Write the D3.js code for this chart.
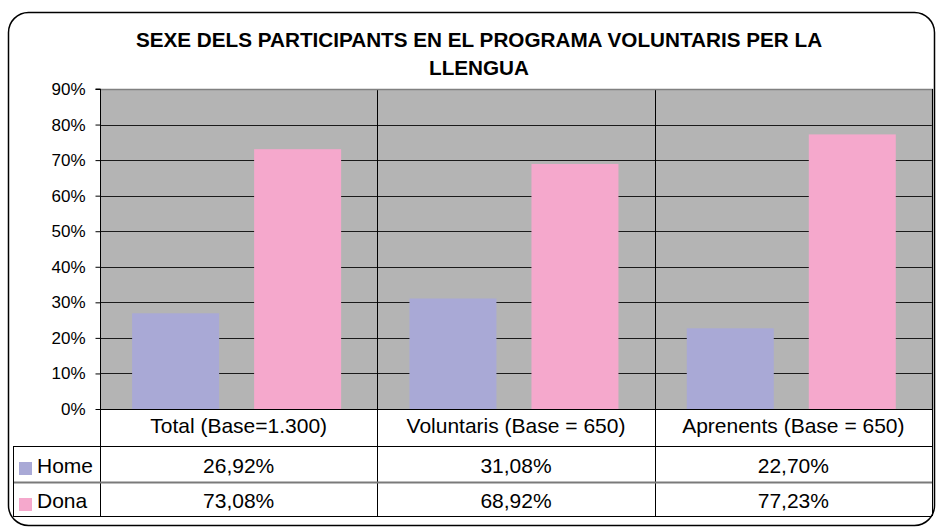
<!DOCTYPE html>
<html><head><meta charset="utf-8">
<script src="https://cdn.jsdelivr.net/npm/d3@7"></script>
<style>body{margin:0;background:#fff}svg{display:block}text{font-family:"Liberation Sans",Arial,sans-serif}</style>
</head><body>
<svg id="chart" width="937" height="528"></svg>
<script>
const titleLines = ["SEXE DELS PARTICIPANTS EN EL PROGRAMA VOLUNTARIS PER LA", "LLENGUA"];
const categories = ["Total (Base=1.300)", "Voluntaris (Base = 650)", "Aprenents (Base = 650)"];
const seriesNames = ["Home", "Dona"];
const homeValues = [26.92, 31.08, 22.70];
const donaValues = [73.08, 68.92, 77.23];
const seriesColors = ["#A9A9D6", "#F5A8CC"];
const yTicks = [0, 10, 20, 30, 40, 50, 60, 70, 80, 90];

const seriesValues = [homeValues, donaValues];
const fmtVal = v => v.toFixed(2).replace(".", ",") + "%";

const svg = d3.select("#chart");
const plot = {left: 100, right: 932, top: 89, bottom: 409};
const rowY = [409, 446, 482, 516];
const tableLeft = 13;

// outer border
svg.append("rect").attr("x", 8.5).attr("y", 12.5).attr("width", 926).attr("height", 513)
  .attr("rx", 20).attr("ry", 20).attr("fill", "#fff").attr("stroke", "#000").attr("stroke-width", 1.5);

// title
svg.selectAll("text.title").data(titleLines).join("text").attr("class", "title")
  .attr("x", 479).attr("y", (d, i) => 47 + i * 28).attr("text-anchor", "middle")
  .attr("font-size", 20.7).attr("font-weight", "bold").attr("fill", "#000").text(d => d);

const x0 = d3.scaleBand().domain(categories).range([plot.left, plot.right]).padding(0);
const x1 = d3.scaleBand().domain(seriesNames).range([0, x0.bandwidth()])
  .paddingInner(0.287).paddingOuter(0.28).align(0.47);
const y = d3.scaleLinear().domain([0, 90]).range([plot.bottom, plot.top]);

// plot background
svg.append("rect").attr("x", plot.left).attr("y", plot.top).attr("width", plot.right - plot.left)
  .attr("height", plot.bottom - plot.top).attr("fill", "#B4B4B4");

// gridlines
svg.append("g").selectAll("line").data(yTicks.filter(t => t > 0 && t < 90)).join("line")
  .attr("x1", plot.left).attr("x2", plot.right).attr("y1", d => Math.round(y(d)) + 0.5).attr("y2", d => Math.round(y(d)) + 0.5)
  .attr("stroke", "#1a1a1a").attr("stroke-width", 1);

// bars
const groups = svg.append("g").selectAll("g").data(categories).join("g")
  .attr("transform", d => `translate(${x0(d)},0)`);
groups.selectAll("rect").data((c, ci) => seriesNames.map((s, si) => ({s, v: seriesValues[si][ci], si})))
  .join("rect")
  .attr("x", d => x1(d.s)).attr("width", x1.bandwidth())
  .attr("y", d => y(d.v)).attr("height", d => y(0) - y(d.v))
  .attr("fill", d => seriesColors[d.si]);

// category dividers
svg.append("g").selectAll("line").data(categories.slice(1)).join("line")
  .attr("x1", d => Math.round(x0(d)) + 0.5).attr("x2", d => Math.round(x0(d)) + 0.5)
  .attr("y1", plot.top).attr("y2", rowY[3]).attr("stroke", "#000");

// plot border top/right
svg.append("path").attr("d", `M${plot.left},${plot.top + 0.5}H${plot.right + 0.5}V${plot.bottom}`)
  .attr("fill", "none").attr("stroke", "#808080").attr("stroke-width", 1.5);

// y axis
const yAxis = d3.axisLeft(y).tickValues(yTicks).tickSize(5).tickPadding(10).tickFormat(d => d + "%");
const ag = svg.append("g").attr("transform", `translate(${plot.left + 0.5},0)`).call(yAxis);
ag.select(".domain").attr("stroke", "#000").attr("d", `M-5,${plot.top}H0V${rowY[3]}`);
ag.selectAll(".tick line").attr("stroke", "#000");
ag.selectAll(".tick text").attr("font-size", 17).attr("fill", "#000")
  .attr("font-family", '"Liberation Sans",Arial,sans-serif');

// table lines
const tl = svg.append("g").attr("stroke", "#000").attr("fill", "none");
tl.append("line").attr("x1", plot.left).attr("x2", plot.right).attr("y1", rowY[0] + 0.5).attr("y2", rowY[0] + 0.5);
tl.append("line").attr("x1", tableLeft).attr("x2", plot.right).attr("y1", rowY[1] + 0.5).attr("y2", rowY[1] + 0.5);
tl.append("line").attr("x1", tableLeft).attr("x2", plot.right).attr("y1", rowY[2] + 0.5).attr("y2", rowY[2] + 0.5)
  .attr("stroke", "#7a7a7a").attr("stroke-width", 2);
tl.append("line").attr("x1", tableLeft).attr("x2", plot.right).attr("y1", rowY[3] + 0.5).attr("y2", rowY[3] + 0.5);
tl.append("line").attr("x1", tableLeft + 0.5).attr("x2", tableLeft + 0.5).attr("y1", rowY[1]).attr("y2", rowY[3]);
tl.append("line").attr("x1", plot.right + 0.5).attr("x2", plot.right + 0.5).attr("y1", plot.top).attr("y2", rowY[3]);

// category labels
svg.append("g").selectAll("text").data(categories).join("text")
  .attr("x", d => x0(d) + x0.bandwidth() / 2).attr("y", 433).attr("text-anchor", "middle")
  .attr("font-size", 21).attr("fill", "#000").text(d => d);

// legend keys and values
seriesNames.forEach((s, si) => {
  const yBase = si === 0 ? 473 : 508;
  const rowTop = rowY[si + 1];
  svg.append("rect").attr("x", 19).attr("y", rowTop + 16).attr("width", 13).attr("height", 13)
    .attr("fill", seriesColors[si]);
  svg.append("text").attr("x", 37).attr("y", yBase).attr("font-size", 21).attr("fill", "#000").text(s);
  svg.append("g").selectAll("text").data(categories).join("text")
    .attr("x", d => x0(d) + x0.bandwidth() / 2).attr("y", yBase).attr("text-anchor", "middle")
    .attr("font-size", 21).attr("fill", "#000").text((d, ci) => fmtVal(seriesValues[si][ci]));
});
</script>
</body></html>
